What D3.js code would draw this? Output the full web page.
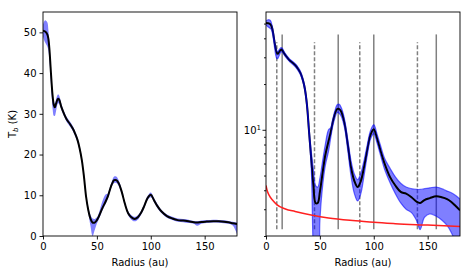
<!DOCTYPE html>
<html>
<head>
<meta charset="utf-8">
<script src="https://cdn.jsdelivr.net/npm/d3@7"></script>
<style>
  body { margin: 0; background: #fff; }
  text { font-family: "DejaVu Sans", sans-serif; }
</style>
</head>
<body>
<div id="chart"></div>
<script>
// radial profile (au) and brightness temperature (K)
var radius = [0,2,4,5,6,7,8,9,10,11, 12,14,15,17,20,22,25,28,30,32, 34,36,38,40,42,44,46,48,50,52,
  55,58,60,62,64,66,68,70,73,76, 79,82,85,88,91,94,97,100,103,106, 110,115,120,125,130,135,140,143,147,152,
  158,163,168,172,176,180];
var tb = [50.4,50.2,49.5,48.4,45.7,41.6,37.5,34.2,32.2,31.6, 32.4,33.7,33.5,31.7,29.7,28.6,27.5,26.2,25.0,23.6,
  21.5,18.7,14.6,9.6,6.4,4.3,3.3,3.3,3.9,4.9, 6.8,8.4,9.6,11.3,12.8,13.7,13.7,13.1,10.9,7.9,
  5.6,4.6,4.2,4.6,5.7,7.4,9.3,10.1,8.8,7.4, 6.0,4.9,4.3,3.9,3.8,3.6,3.35,3.3,3.45,3.55,
  3.65,3.6,3.5,3.35,3.15,2.95];
var tbHighLin = [52.0,53.0,52.5,50.5,47.0,43.0,38.5,35.0,33.0,32.5, 33.5,34.8,34.5,32.5,30.3,29.2,28.1,26.8,25.6,24.2,
  22.1,19.3,15.2,10.2,7.0,5.2,4.3,4.2,4.6,5.8, 8.5,10.2,10.4,11.9,13.5,14.6,14.6,13.8,11.5,8.4,
  6.1,5.1,4.7,5.1,6.2,7.9,9.8,10.7,9.3,7.9, 6.4,5.3,4.7,4.3,4.2,4.0,3.7,3.6,3.8,3.9,
  4.0,3.95,3.85,3.7,3.5,3.3];
var tbLowLin = [49.0,47.5,46.5,45.5,43.0,39.0,34.5,31.0,29.5,29.5, 30.5,32.6,32.5,31.0,29.1,28.0,26.9,25.6,24.4,23.0,
  20.9,18.1,14.0,9.0,5.8,2.5,0.0,1.5,3.1,4.2, 6.2,7.8,9.0,10.7,12.2,13.0,13.0,12.4,10.3,7.4,
  5.1,4.0,3.6,4.0,5.2,6.9,8.8,9.5,8.3,6.9, 5.6,4.5,3.9,3.5,3.4,3.2,3.0,2.5,3.0,3.2,
  3.3,3.25,3.15,3.0,2.6,0.5];
var tbHighLog = [52.0,53.0,52.5,50.5,47.0,43.0,38.5,35.0,33.0,32.5, 33.5,34.8,34.5,32.5,30.3,29.2,28.1,26.8,25.6,24.2,
  22.1,19.3,15.2,10.2,7.2,5.5,4.3,4.2,4.8,5.9, 8.0,10.0,10.3,11.8,13.4,14.6,14.7,13.9,11.6,8.5,
  6.2,5.1,4.7,5.2,6.3,8.0,9.9,10.8,9.4,8.0, 6.5,5.6,4.9,4.45,4.2,4.1,4.05,4.05,4.1,4.15,
  4.2,4.1,3.95,3.85,3.7,3.5];
var tbLowLog = [49.0,47.5,46.5,45.5,43.0,39.0,34.5,31.0,29.5,29.5, 30.5,32.6,32.5,31.0,29.1,28.0,26.9,25.6,24.4,23.0,
  20.9,18.1,14.0,9.0,5.6,1.5,1.0,1.0,2.5,3.9, 5.8,7.2,8.8,10.6,12.0,13.0,12.8,12.2,10.2,7.2,
  4.9,3.8,3.4,3.8,5.0,6.8,8.7,9.4,8.2,6.9, 5.5,4.5,3.8,3.3,3.0,2.85,2.5,2.2,2.65,2.8,
  2.7,2.55,2.35,2.1,1.8,1.5];

// noise level (red curve, log panel)
var noiseRadius = [0,1,3,6,10,18,27,43,58,87,100,120,150,180];
var noiseTb = [4.3,4.0,3.7,3.45,3.22,3.01,2.9,2.74,2.63,2.51,2.46,2.41,2.36,2.31];

// ring / gap positions
var ringsSolid = [15, 67, 100, 158];
var ringsDashed = [10, 45, 87, 140.5];

var xTicks = [0, 50, 100, 150];
var yTicksLin = [0, 10, 20, 30, 40, 50];
var yMajorLog = [10];
var yMinorLog = [2,3,4,5,6,7,8,9,20,30,40,50];

var W = 472, H = 276;
var plotTop = 12, plotBottom = 236;

var svg = d3.select("#chart").append("svg")
  .attr("width", W)
  .attr("height", H);

var rows = radius.map(function (r, i) {
  return { r: r, t: tb[i], hiL: tbHighLin[i], loL: tbLowLin[i], hiG: tbHighLog[i], loG: tbLowLog[i] };
});

//scales
var xL = d3.scaleLinear().domain([0, 180]).range([43, 237]);
var yL = d3.scaleLinear().domain([0, 55]).range([plotBottom, plotTop]);
var xR = d3.scaleLinear().domain([0, 180]).range([266, 460]);
var yR = d3.scaleLog().domain([2.0, 59.6]).range([plotBottom, plotTop]);

var curve = d3.curveCatmullRom.alpha(0.5);
var ph = plotBottom - plotTop;

function clip(id, x) {
  svg.append("clipPath").attr("id", id)
    .append("rect")
    .attr("x", x.range()[0]).attr("y", plotTop)
    .attr("width", x.range()[1] - x.range()[0]).attr("height", ph);
}
clip("clipL", xL);
clip("clipR", xR);

// ---- left panel (linear)
var gL = svg.append("g").attr("clip-path", "url(#clipL)");

gL.append("path").datum(rows)
  .attr("d", d3.area().curve(curve)
    .x(function (d) { return xL(d.r); })
    .y0(function (d) { return yL(d.loL); })
    .y1(function (d) { return yL(d.hiL); }))
  .attr("fill", "#0000ff").attr("fill-opacity", 0.5);

gL.append("path").datum(rows)
  .attr("d", d3.line().curve(curve)
    .x(function (d) { return xL(d.r); })
    .y(function (d) { return yL(d.t); }))
  .attr("fill", "none").attr("stroke", "#000").attr("stroke-width", 2);

// ---- right panel (log)
var gR = svg.append("g").attr("clip-path", "url(#clipR)");

ringsSolid.forEach(function (r) {
  gR.append("line")
    .attr("x1", xR(r)).attr("x2", xR(r))
    .attr("y1", plotBottom - 0.03 * ph).attr("y2", plotBottom - 0.9 * ph)
    .attr("stroke", "#808080").attr("stroke-width", 1.5);
});
ringsDashed.forEach(function (r) {
  gR.append("line")
    .attr("x1", xR(r)).attr("x2", xR(r))
    .attr("y1", plotBottom - 0.03 * ph).attr("y2", plotBottom - 0.865 * ph)
    .attr("stroke", "#808080").attr("stroke-width", 1.5)
    .attr("stroke-dasharray", "4,2");
});

gR.append("path").datum(rows)
  .attr("d", d3.area().curve(curve)
    .x(function (d) { return xR(d.r); })
    .y0(function (d) { return yR(d.loG); })
    .y1(function (d) { return yR(d.hiG); }))
  .attr("fill", "#0000ff").attr("fill-opacity", 0.5);

gR.append("path").datum(rows)
  .attr("d", d3.line().curve(curve)
    .x(function (d) { return xR(d.r); })
    .y(function (d) { return yR(d.t); }))
  .attr("fill", "none").attr("stroke", "#000").attr("stroke-width", 2);

// band edges on top
["hiG", "loG"].forEach(function (k) {
  gR.append("path").datum(rows)
    .attr("d", d3.line().curve(curve)
      .x(function (d) { return xR(d.r); })
      .y(function (d) { return yR(d[k]); }))
    .attr("fill", "none").attr("stroke", "#0000ff").attr("stroke-opacity", 0.55).attr("stroke-width", 1.2);
});

var noise = noiseRadius.map(function (r, i) { return { r: r, t: noiseTb[i] }; });
gR.append("path").datum(noise)
  .attr("d", d3.line().curve(d3.curveMonotoneX)
    .x(function (d) { return xR(d.r); })
    .y(function (d) { return yR(d.t); }))
  .attr("fill", "none").attr("stroke", "#ff2020").attr("stroke-width", 1.5);

// ---- axes
function styleAxis(g) {
  g.select(".domain").remove();
  g.selectAll("text").attr("font-size", "10px").attr("fill", "#000")
    .attr("font-family", "DejaVu Sans, sans-serif");
  g.selectAll("line").attr("stroke", "#000").attr("stroke-width", 0.9);
}

[xL, xR].forEach(function (x) {
  svg.append("g")
    .attr("transform", "translate(0," + plotBottom + ")")
    .call(d3.axisBottom(x).tickValues(xTicks).tickSize(3.5).tickPadding(3))
    .call(styleAxis);

  svg.append("text")
    .attr("x", (x.range()[0] + x.range()[1]) / 2)
    .attr("y", 266)
    .attr("text-anchor", "middle")
    .attr("font-size", "10px")
    .text("Radius (au)");
});

svg.append("g")
  .attr("transform", "translate(43,0)")
  .call(d3.axisLeft(yL).tickValues(yTicksLin).tickSize(3.5).tickPadding(3))
  .call(styleAxis);

svg.append("g")
  .attr("transform", "translate(266,0)")
  .call(d3.axisLeft(yR).tickValues(yMinorLog).tickSize(2).tickFormat(""))
  .call(styleAxis);

svg.append("g")
  .attr("transform", "translate(266,0)")
  .call(d3.axisLeft(yR).tickValues(yMajorLog).tickSize(3.5).tickFormat(""))
  .call(styleAxis);

yMajorLog.forEach(function (v) {
  var lab = svg.append("text")
    .attr("x", 261)
    .attr("y", yR(v) + 4)
    .attr("text-anchor", "end")
    .attr("font-size", "10px");
  lab.append("tspan").text("10");
  lab.append("tspan").attr("font-size", "7px").attr("dy", -4).text(Math.round(Math.log10(v)));
});

// y label
var yLab = svg.append("text")
  .attr("transform", "translate(16," + ((plotTop + plotBottom) / 2) + ") rotate(-90)")
  .attr("text-anchor", "middle")
  .attr("font-size", "10px");
yLab.append("tspan").text("T");
yLab.append("tspan").attr("font-size", "7px").attr("font-style", "italic").attr("dy", 2).text("b");
yLab.append("tspan").attr("dy", -2).text(" (K)");

// frames
[xL, xR].forEach(function (x) {
  svg.append("rect")
    .attr("x", x.range()[0]).attr("y", plotTop)
    .attr("width", x.range()[1] - x.range()[0]).attr("height", ph)
    .attr("fill", "none").attr("stroke", "#000").attr("stroke-width", 0.9);
});
</script>
</body>
</html>
